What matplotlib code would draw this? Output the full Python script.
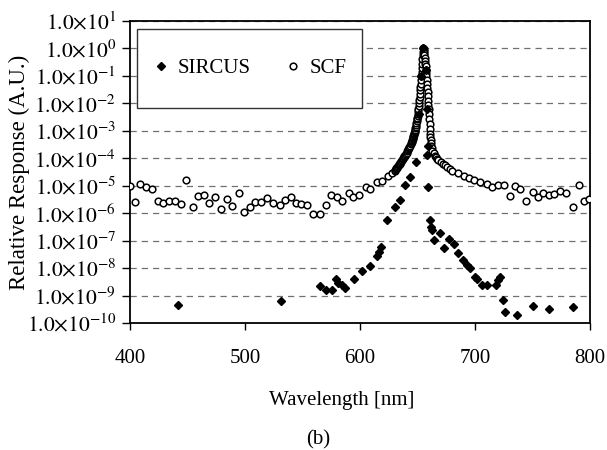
import matplotlib
matplotlib.use('Agg')
import matplotlib.pyplot as plt
from matplotlib.patches import Rectangle

plt.rcParams['font.family'] = ['Liberation Serif', 'DejaVu Serif']
plt.rcParams['mathtext.fontset'] = 'stix'

# SCF measurement: wavelength (nm) and log10 of relative response
scf_wl = [400, 404, 409, 414, 419, 424, 429, 434, 439, 444, 449, 455, 459, 464, 469,
          474, 479, 484, 489, 495, 499, 504, 509, 514, 519, 524, 530, 535, 540, 544,
          549, 554, 559, 565, 570, 575, 580, 584, 590, 594, 599, 605, 609, 615, 619,
          624, 628, 630, 630.5, 631, 631.5, 632, 632.5, 633, 633.5, 634, 634.5, 635,
          635.5, 636, 636.5, 637, 637.5, 638, 638.5, 639, 639.5, 640, 640.5, 641, 641.5,
          642, 642.5, 643, 643.5, 644, 644.5,
          645, 645.25, 645.5, 645.75, 646, 646.25, 646.5, 646.75, 647, 647.25, 647.5,
          647.75, 648, 648.25, 648.5, 648.75, 649, 649.25, 649.5, 649.75, 650, 650.25,
          650.5, 650.75, 651, 651.25, 651.5, 651.75, 652, 652.25, 652.5, 652.75, 653,
          653.25, 653.5, 653.75, 654, 654.25, 654.5, 654.75, 655, 655.25, 655.5, 655.75,
          656, 656.25, 656.5, 656.75, 657, 657.25, 657.5, 657.75, 658, 658.25, 658.5,
          658.75, 659, 659.25, 659.5, 659.75, 660, 660.25, 660.5, 660.75, 661, 661.25,
          661.5, 661.75, 662, 662.5, 663,
          664, 665, 666, 667, 668, 670, 672, 674, 676, 678, 680, 685, 690, 695, 699,
          704, 710, 715, 720, 725, 730, 735, 739, 744, 750, 755, 759, 764, 769, 774,
          779, 785, 790, 795, 799]
scf_log = [-5.00, -5.58, -4.95, -5.04, -5.13, -5.55, -5.62, -5.55, -5.55, -5.67, -4.80,
           -5.79, -5.38, -5.33, -5.62, -5.42, -5.86, -5.50, -5.74, -5.28, -5.96, -5.76,
           -5.59, -5.59, -5.46, -5.64, -5.71, -5.52, -5.40, -5.62, -5.67, -5.71, -6.03,
           -6.03, -5.71, -5.33, -5.40, -5.55, -5.28, -5.42, -5.33, -5.06, -5.11, -4.87,
           -4.82, -4.65, -4.53, -4.45, -4.42, -4.40, -4.37, -4.34, -4.31, -4.28, -4.25,
           -4.22, -4.20, -4.17, -4.13, -4.10, -4.07, -4.03, -4.00, -3.96, -3.93, -3.90,
           -3.87, -3.83, -3.79, -3.75, -3.71, -3.67, -3.62, -3.58, -3.54, -3.49, -3.45,
           -3.40, -3.37, -3.34, -3.30, -3.27, -3.23, -3.19, -3.16, -3.12, -3.08, -3.04,
           -3.00, -2.96, -2.91, -2.85, -2.79, -2.72, -2.65, -2.58, -2.52, -2.45, -2.37,
           -2.28, -2.19, -2.10, -1.99, -1.88, -1.77, -1.65, -1.52, -1.40, -1.28, -1.15,
           -1.00, -0.85, -0.70, -0.55, -0.40, -0.25, -0.12, 0.00, -0.03, -0.08, -0.16,
           -0.25, -0.35, -0.45, -0.55, -0.65, -0.78, -0.90, -1.02, -1.15, -1.30, -1.45,
           -1.60, -1.75, -1.90, -2.05, -2.22, -2.40, -2.58, -2.75, -2.93, -3.10, -3.23,
           -3.35, -3.45, -3.55, -3.64, -3.72,
           -3.82, -3.90, -3.96, -4.01, -4.05, -4.12, -4.20, -4.26, -4.32, -4.38, -4.45,
           -4.55, -4.65, -4.72, -4.79, -4.87, -4.94, -5.06, -4.97, -4.97, -5.38, -5.01,
           -5.13, -5.55, -5.23, -5.40, -5.28, -5.35, -5.30, -5.21, -5.28, -5.79, -4.99,
           -5.55, -5.47]

# SIRCUS measurement
sir_wl = [442, 531, 565, 570, 576, 579, 581, 584, 587, 594.5, 602, 609, 614.5, 616.8,
          618, 623.8, 630.4, 634.8, 639, 643.5, 648.7, 651, 653, 655, 657, 658.3, 658,
          658.9, 659.4, 660.9, 661.7, 662.3, 664.3, 669.6, 673.3, 677.7, 682.1, 685.5,
          689.9, 692.8, 695.7, 700, 701.4, 705.8, 710.7, 718.3, 720.3, 721.7, 724.1,
          726.1, 736.2, 750.7, 764.6, 785.5]
sir_log = [-9.35, -9.19, -8.65, -8.78, -8.78, -8.38, -8.53, -8.62, -8.74, -8.38, -8.10,
           -7.93, -7.56, -7.40, -7.22, -6.25, -5.77, -5.52, -4.99, -4.67, -4.15, -2.40,
           -1.00, 0.00, -0.80, -2.20, -3.88, -3.54, -5.06, -6.25, -6.49, -6.61, -6.98,
           -6.73, -7.28, -6.94, -7.13, -7.44, -7.71, -7.89, -8.01, -8.31, -8.41, -8.62,
           -8.62, -8.62, -8.44, -8.31, -9.16, -9.59, -9.71, -9.38, -9.50, -9.43]

decades = list(range(-10, 2))
xticks = [400, 500, 600, 700, 800]

scf_resp = [10 ** v for v in scf_log]
sir_resp = [10 ** v for v in sir_log]

fig = plt.figure(figsize=(6.07, 4.5), dpi=100)
ax = fig.add_axes([130 / 607, 1 - 323 / 450, 460 / 607, 302 / 450])

h_sir, = ax.plot(sir_wl, sir_resp, linestyle='none', marker='D', color='black',
                 ms=4.5, zorder=5, label='SIRCUS')
h_scf, = ax.plot(scf_wl, scf_resp, linestyle='none', marker='o', mfc='white',
                 mec='black', ms=4.8, mew=1.1, zorder=4, label='SCF')

ax.set_yscale('log')
ax.set_xlim(400, 800)
ax.set_ylim(1e-10, 1e1)
ax.set_xticks(xticks)
ax.set_yticks([10.0 ** k for k in decades])
ax.set_yticklabels([r'$1.0{\times}10^{%d}$' % k for k in decades])
ax.minorticks_off()
ax.tick_params(axis='y', direction='out', length=6, width=1, labelsize=15.5, pad=4)
ax.tick_params(axis='x', direction='out', length=5, width=1, labelsize=15, pad=14)
ax.yaxis.grid(True, linestyle=(0, (5, 4)), color='#707070', lw=0.9)
ax.set_axisbelow(True)
for s in ax.spines.values():
    s.set_linewidth(1.3)

ax.add_patch(Rectangle((0.015, 0.712), 0.489, 0.262, transform=ax.transAxes,
                       facecolor='white', edgecolor='#333333', lw=1.0, zorder=3))
ax.legend([h_sir, h_scf], ['SIRCUS', 'SCF'], loc='center', bbox_to_anchor=(0.26, 0.843),
          ncol=2, frameon=False, fontsize=15, handlelength=0.8, handletextpad=0.4,
          columnspacing=1.6)

fig.text(19 / 607, 1 - 172 / 450, 'Relative Response (A.U.)', rotation=90,
         ha='center', va='center', fontsize=16.5)
fig.text(342 / 607, 1 - 400 / 450, 'Wavelength [nm]', ha='center', va='center', fontsize=15)
fig.text(318 / 607, 1 - 440 / 450, '(b)', ha='center', va='center', fontsize=15)

fig.savefig('out.png', dpi=100)
